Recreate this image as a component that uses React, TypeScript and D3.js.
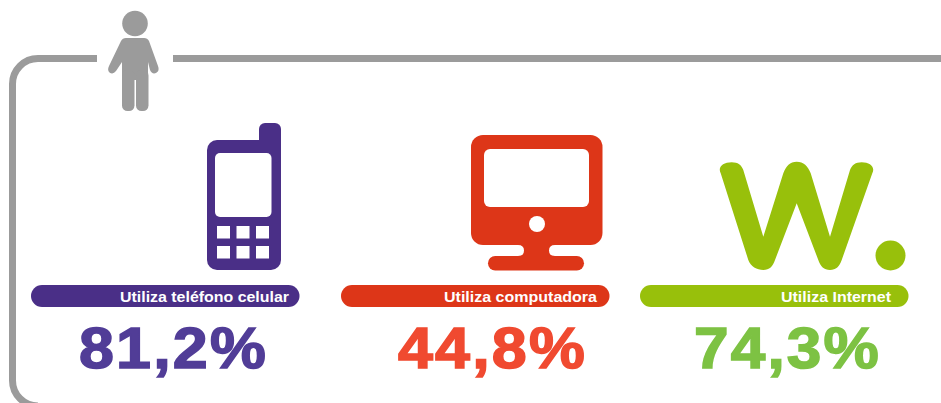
import React from 'react'
import * as d3 from 'd3'

const width = 941
const height = 403

const categories = ['phone', 'computer', 'internet']
const labels = ['Utiliza teléfono celular', 'Utiliza computadora', 'Utiliza Internet']
const values = [81.2, 44.8, 74.3]
const barColors = ['#4a2f87', '#dd3618', '#98c00b']
const valueColors = ['#513d97', '#f04a30', '#7dc243']

const grey = '#9b9b9b'
const fmt = d3.formatLocale({ decimal: ',', thousands: '.', grouping: [3], currency: ['', ''] }).format('.1f')

// the three columns are not evenly spaced in the picture
const barX = d3.scaleOrdinal<string, number>().domain(categories).range([31, 341, 640])
const labelX = d3.scaleOrdinal<string, number>().domain(categories).range([120, 444, 781])
const labelW = d3.scaleOrdinal<string, number>().domain(categories).range([169, 153, 110])
const valueX = d3.scaleOrdinal<string, number>().domain(categories).range([79, 398, 694])
const valueW = d3.scaleOrdinal<string, number>().domain(categories).range([189, 189, 187])

const framePath = () => {
  const p = d3.path()
  p.moveTo(97, 58.5)
  p.lineTo(38, 58.5)
  p.arcTo(12.5, 58.5, 12.5, 84, 25.5)
  p.lineTo(12.5, 380)
  p.arcTo(12.5, 406, 38, 406, 25.5)
  p.moveTo(173, 58.5)
  p.lineTo(941, 58.5)
  return p.toString()
}

function Person() {
  return (
    <g fill={grey} stroke="none">
      <circle cx={135} cy={23.5} r={12.8} />
      <path d="M126,38H144Q147.5,38 149,41L158,66Q160,71 156,73Q152,74.5 150,70L148,62V80H122V62L116,71Q113,75 109.5,72.5Q107,70 109,66L121,41Q122.5,38 126,38Z" />
      <rect x={122} y={70} width={12.5} height={41} rx={5.5} />
      <rect x={136} y={70} width={12.5} height={41} rx={5.5} />
    </g>
  )
}

function Phone() {
  const color = barColors[0]
  const keysX = [217, 236.5, 256]
  const keysY = [226, 246]
  return (
    <g>
      <rect x={207} y={140} width={74} height={130} rx={10} fill={color} />
      <rect x={259} y={123} width={22} height={40} rx={6} fill={color} />
      <rect x={215} y={153} width={56.5} height={64} rx={5} fill="#fff" />
      {keysY.map(y => keysX.map(x => (
        <rect key={`${x}-${y}`} x={x} y={y} width={13} height={12.5} fill="#fff" />
      )))}
    </g>
  )
}

function Computer() {
  const color = barColors[1]
  return (
    <g>
      <rect x={471} y={135} width={131.5} height={110} rx={12} fill={color} />
      <rect x={484} y={149} width={105} height={58} rx={6} fill="#fff" />
      <circle cx={537} cy={224} r={8} fill="#fff" />
      <path d="M518,245H555Q549,245 549,250.5Q549,256 555,256H518Q524,256 524,250.5Q524,245 518,245Z" fill={color} />
      <rect x={488} y={256} width={96} height={14.5} rx={7.2} fill={color} />
    </g>
  )
}

function Internet() {
  const color = barColors[2]
  const w = 'M720.7,173.3C717.5,167 723,162.3 731.7,162.3C738,162.3 741.5,165 743.3,170L763.3,236.7L783.3,173.3C786,166 790,161.7 796.7,161.7C803.5,161.7 808,166 810.7,173.3L830,236.7L850,170C852,165 855.5,162.3 861.7,162.3C870,162.3 875.5,167 872.3,173.3L841.7,260C839.5,266.5 836,270 830,270C824,270 820.5,266.5 818.3,260L796.7,203.3L775,260C772.8,266.5 769.5,270 763.3,270C757,270 750.5,266.5 748.3,260Z'
  return (
    <g>
      <path d={w} fill={color} />
      <circle cx={890.5} cy={255.5} r={15} fill={color} />
    </g>
  )
}

export default function App() {
  return (
    <svg width={width} height={height} style={{ position: 'absolute', left: 0, top: 0, background: '#fff' }}>
      <path d={framePath()} fill="none" stroke={grey} strokeWidth={7} />
      <Person />
      <Phone />
      <Computer />
      <Internet />
      {categories.map((c, i) => (
        <g key={c} fontFamily="'Liberation Sans', Arial, sans-serif" fontWeight="bold">
          <rect x={barX(c)} y={285} width={268.5} height={22} rx={11} fill={barColors[i]} />
          <text
            x={labelX(c)} y={302} fontSize={15.5} fill="#fff"
            textLength={labelW(c)} lengthAdjust="spacingAndGlyphs"
          >{labels[i]}</text>
          <text
            x={valueX(c)} y={368} fontSize={57} fill={valueColors[i]}
            stroke={valueColors[i]} strokeWidth={1.5}
            textLength={valueW(c)} lengthAdjust="spacingAndGlyphs"
            style={{ letterSpacing: 2 }}
          >{fmt(values[i])}%</text>
        </g>
      ))}
    </svg>
  )
}
